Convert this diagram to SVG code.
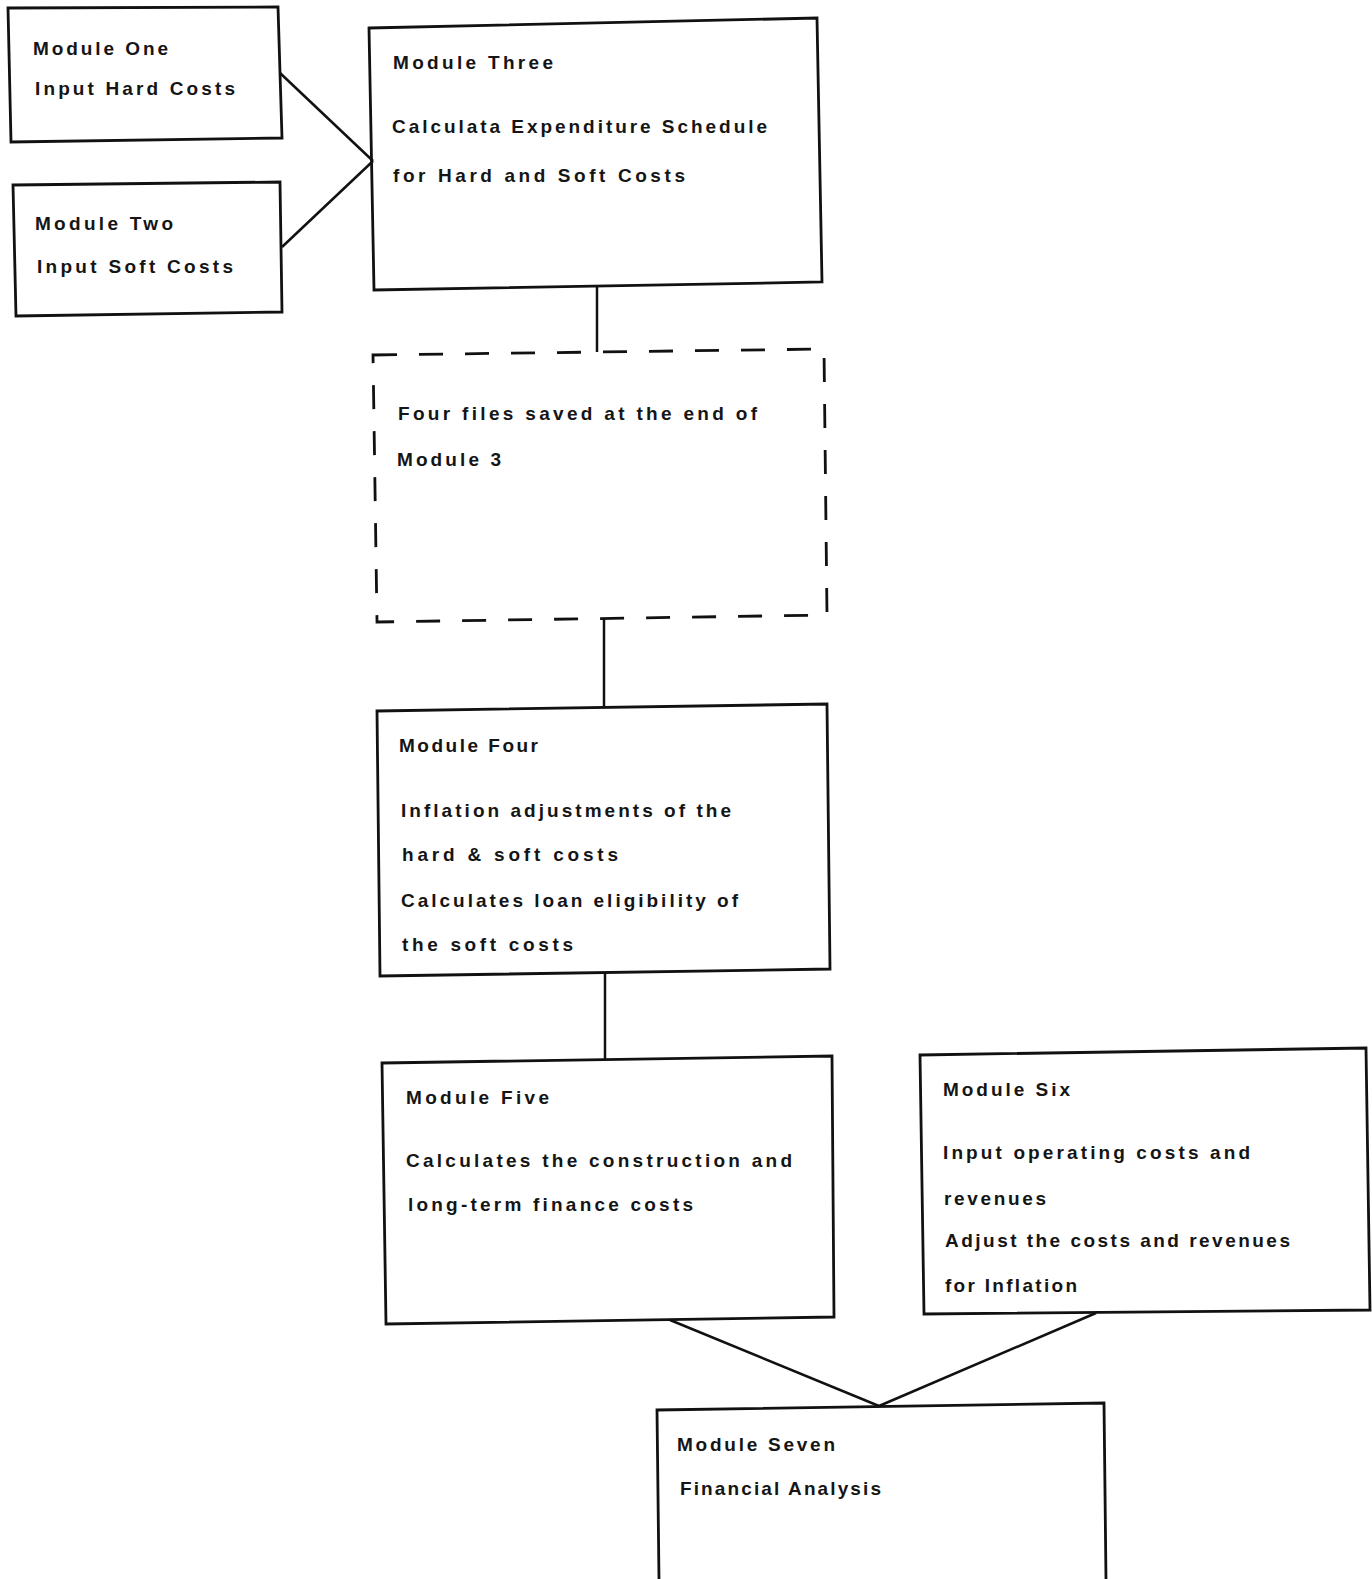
<svg xmlns="http://www.w3.org/2000/svg" width="1372" height="1579" viewBox="0 0 1372 1579">
<style>
.box{fill:none;stroke:#111;stroke-width:2.8;stroke-linejoin:miter}
.dash{fill:none;stroke:#111;stroke-width:2.8;stroke-dasharray:24 22}
.con{fill:none;stroke:#111;stroke-width:2.5}
text{font-family:"Liberation Sans",Arial,sans-serif;font-weight:bold;font-size:19px;fill:#151515}
</style>
<rect width="1372" height="1579" fill="#fff"/>
<g id="connectors">
<line class="con" x1="280" y1="73" x2="373" y2="161"/>
<line class="con" x1="282" y1="247" x2="373" y2="161"/>
<line class="con" x1="597" y1="287" x2="597" y2="352"/>
<line class="con" x1="604" y1="618" x2="604" y2="707"/>
<line class="con" x1="605" y1="972" x2="605" y2="1060"/>
<line class="con" x1="670" y1="1320" x2="879" y2="1406"/>
<line class="con" x1="1096" y1="1313" x2="879" y2="1406"/>
</g>
<g id="module-one">
<polygon class="box" points="8,8 278,7 282,138 11,142"/>
<text x="33" y="55" textLength="135" lengthAdjust="spacing">Module One</text>
<text x="35" y="95" textLength="200" lengthAdjust="spacing">Input Hard Costs</text>
</g>
<g id="module-two">
<polygon class="box" points="13,185 280,182 282,312 16,316"/>
<text x="35" y="230" textLength="138" lengthAdjust="spacing">Module Two</text>
<text x="37" y="273" textLength="196" lengthAdjust="spacing">Input Soft Costs</text>
</g>
<g id="module-three">
<polygon class="box" points="369,28 817,18 822,282 374,290"/>
<text x="393" y="69" textLength="160" lengthAdjust="spacing">Module Three</text>
<text x="392" y="133" textLength="375" lengthAdjust="spacing">Calculata Expenditure Schedule</text>
<text x="393" y="182" textLength="292" lengthAdjust="spacing">for Hard and Soft Costs</text>
</g>
<g id="saved-files">
<polygon class="dash" points="373,355 824,349 827,615 377,622"/>
<text x="398" y="420" textLength="359" lengthAdjust="spacing">Four files  saved at the end of</text>
<text x="397" y="466" textLength="104" lengthAdjust="spacing">Module 3</text>
</g>
<g id="module-four">
<polygon class="box" points="377,711 827,704 830,969 380,976"/>
<text x="399" y="752" textLength="139" lengthAdjust="spacing">Module Four</text>
<text x="401" y="817" textLength="330" lengthAdjust="spacing">Inflation adjustments of the</text>
<text x="402" y="861" textLength="216" lengthAdjust="spacing">hard &amp; soft costs</text>
<text x="401" y="907" textLength="337" lengthAdjust="spacing">Calculates loan eligibility of</text>
<text x="402" y="951" textLength="171" lengthAdjust="spacing">the soft costs</text>
</g>
<g id="module-five">
<polygon class="box" points="382,1063 832,1056 834,1317 386,1324"/>
<text x="406" y="1104" textLength="143" lengthAdjust="spacing">Module Five</text>
<text x="406" y="1167" textLength="386" lengthAdjust="spacing">Calculates the construction and</text>
<text x="408" y="1211" textLength="285" lengthAdjust="spacing">long-term finance costs</text>
</g>
<g id="module-six">
<polygon class="box" points="920,1055 1366,1048 1370,1310 924,1314"/>
<text x="943" y="1096" textLength="127" lengthAdjust="spacing">Module Six</text>
<text x="943" y="1159" textLength="307" lengthAdjust="spacing">Input operating costs and</text>
<text x="944" y="1205" textLength="102" lengthAdjust="spacing">revenues</text>
<text x="945" y="1247" textLength="345" lengthAdjust="spacing">Adjust the costs and revenues</text>
<text x="945" y="1292" textLength="132" lengthAdjust="spacing">for Inflation</text>
</g>
<g id="module-seven">
<path class="box" d="M659,1580 L657,1410 L1104,1403 L1106,1580"/>
<text x="677" y="1451" textLength="158" lengthAdjust="spacing">Module Seven</text>
<text x="680" y="1495" textLength="201" lengthAdjust="spacing">Financial Analysis</text>
</g>
</svg>
